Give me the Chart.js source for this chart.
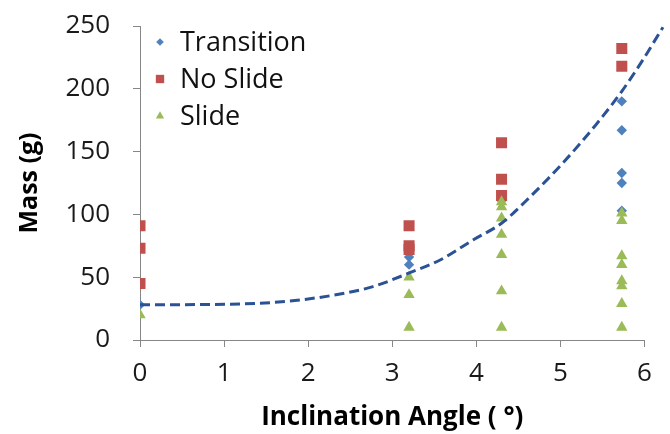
<!DOCTYPE html>
<html>
<head>
<meta charset="utf-8">
<script src="https://cdn.jsdelivr.net/npm/chart.js@4/dist/chart.umd.min.js"></script>
<style>
  html, body { margin: 0; padding: 0; background: #fff; }
  #wrap { width: 670px; height: 434px; position: relative; }
</style>
</head>
<body>
<div id="wrap"><canvas id="c"></canvas></div>
<script>
// ---- data ----
const transitionX = [0, 3.2, 3.2, 4.3, 5.73, 5.73, 5.73, 5.73, 5.73];
const transitionY = [28, 66, 60, 111, 190, 167, 133, 125, 103];

const noSlideX = [0, 0, 0, 3.2, 3.2, 3.2, 4.3, 4.3, 4.3, 5.73, 5.73];
const noSlideY = [91, 73, 45, 91, 75, 72, 157, 128, 115, 232, 218];

const slideX = [0, 3.2, 3.2, 3.2, 4.3, 4.3, 4.3, 4.3, 4.3, 4.3, 4.3, 5.73, 5.73, 5.73, 5.73, 5.73, 5.73, 5.73, 5.73];
const slideY = [20, 50, 36, 10, 110, 106, 97, 84, 68, 39, 10, 101, 95, 67, 60, 47, 43, 29, 10];

// trend line
const trendX = [0, 1.19, 1.78, 2.38, 2.77, 3.21, 3.57, 3.96, 4.30, 4.64, 5.03, 5.43, 5.73, 5.99, 6.22, 6.30];
const trendY = [28, 28.7, 31, 36.6, 42.5, 53.6, 63.7, 79.6, 93, 114, 141, 172, 198, 224, 249, 257];

const xTicks = [0, 1, 2, 3, 4, 5, 6];
const yTicks = [0, 50, 100, 150, 200, 250];

const seriesNames = ['Transition', 'No Slide', 'Slide'];
const xTitle = 'Inclination Angle ( °)';
const yTitle = 'Mass (g)';

const zip = (xs, ys) => xs.map((x, i) => ({x, y: ys[i]}));

Chart.defaults.font.family = "'Open Sans', sans-serif";
Chart.defaults.color = '#1a1a1a';

const legendPlugin = {
  id: 'insideLegend',
  afterDraw(chart) {
    const {ctx, chartArea} = chart;
    const items = chart.data.datasets.filter(d => d.inLegend);
    ctx.save();
    items.forEach((ds, i) => {
      const y = chartArea.top + 16 + i * 37;
      const x = chartArea.left + 20;
      ctx.fillStyle = ds.backgroundColor;
      ctx.strokeStyle = ds.backgroundColor;
      Chart.helpers.drawPoint(ctx, {pointStyle: ds.pointStyle, radius: ds.legendRadius, rotation: 0, borderWidth: 0}, x, y);
      ctx.fillStyle = '#111';
      ctx.font = "27px 'Open Sans', sans-serif";
      ctx.textBaseline = 'middle';
      ctx.textAlign = 'left';
      ctx.fillText(ds.label, x + 20, y + 1);
    });
    ctx.restore();
  }
};

new Chart(document.getElementById('c'), {
  type: 'scatter',
  data: {
    datasets: [
      {
        label: 'trend',
        data: zip(trendX, trendY),
        showLine: true,
        borderColor: '#2A5294',
        borderWidth: 3,
        borderDash: [10, 5],
        pointRadius: 0,
        cubicInterpolationMode: 'monotone',
        fill: false,
        clip: false,
        order: 0
      },
      {
        label: seriesNames[0], inLegend: true, legendRadius: 3.8,
        data: zip(transitionX, transitionY),
        pointStyle: 'rectRot', pointRadius: 5.2,
        backgroundColor: '#4F81BD', borderColor: '#4F81BD', borderWidth: 0,
        order: 3
      },
      {
        label: seriesNames[1], inLegend: true, legendRadius: 5.9,
        data: zip(noSlideX, noSlideY),
        pointStyle: 'rect', pointRadius: 7.8,
        backgroundColor: '#C0504D', borderColor: '#C0504D', borderWidth: 0,
        order: 2
      },
      {
        label: seriesNames[2], inLegend: true, legendRadius: 4.8,
        data: zip(slideX, slideY),
        pointStyle: 'triangle', pointRadius: 6.6,
        backgroundColor: '#9BBB59', borderColor: '#9BBB59', borderWidth: 0,
        order: 1
      }
    ]
  },
  options: {
    responsive: true,
    maintainAspectRatio: false,
    animation: false,
    layout: { padding: { left: 0, top: 26, right: 25.5, bottom: 0 } },
    plugins: { legend: { display: false }, tooltip: { enabled: false } },
    scales: {
      x: {
        type: 'linear', min: 0, max: 6,
        afterBuildTicks: s => { s.ticks = xTicks.map(v => ({value: v})); },
        afterFit: s => { s.height = 94; },
        ticks: { font: { size: 26 }, padding: 11, color: '#1a1a1a' },
        grid: { drawOnChartArea: false, drawTicks: true, tickLength: 7, color: '#868686', lineWidth: 1 },
        border: { color: '#868686', width: 1 },
        title: { display: true, text: xTitle, font: { size: 26, weight: 'bold' }, color: '#000', padding: { top: 0, bottom: 1 } }
      },
      y: {
        type: 'linear', min: 0, max: 250,
        afterBuildTicks: s => { s.ticks = yTicks.map(v => ({value: v})); },
        afterFit: s => { s.width = 140; s.paddingTop = 0; s.paddingBottom = 0; },
        ticks: { font: { size: 26 }, padding: 23, color: '#1a1a1a' },
        grid: { drawOnChartArea: false, drawTicks: true, tickLength: 7, color: '#868686', lineWidth: 1 },
        border: { color: '#868686', width: 1 },
        title: { display: true, text: yTitle, font: { size: 25, weight: 'bold' }, color: '#000', padding: { top: 15, bottom: 0 } }
      }
    }
  },
  plugins: [legendPlugin]
});
</script>
</body>
</html>
